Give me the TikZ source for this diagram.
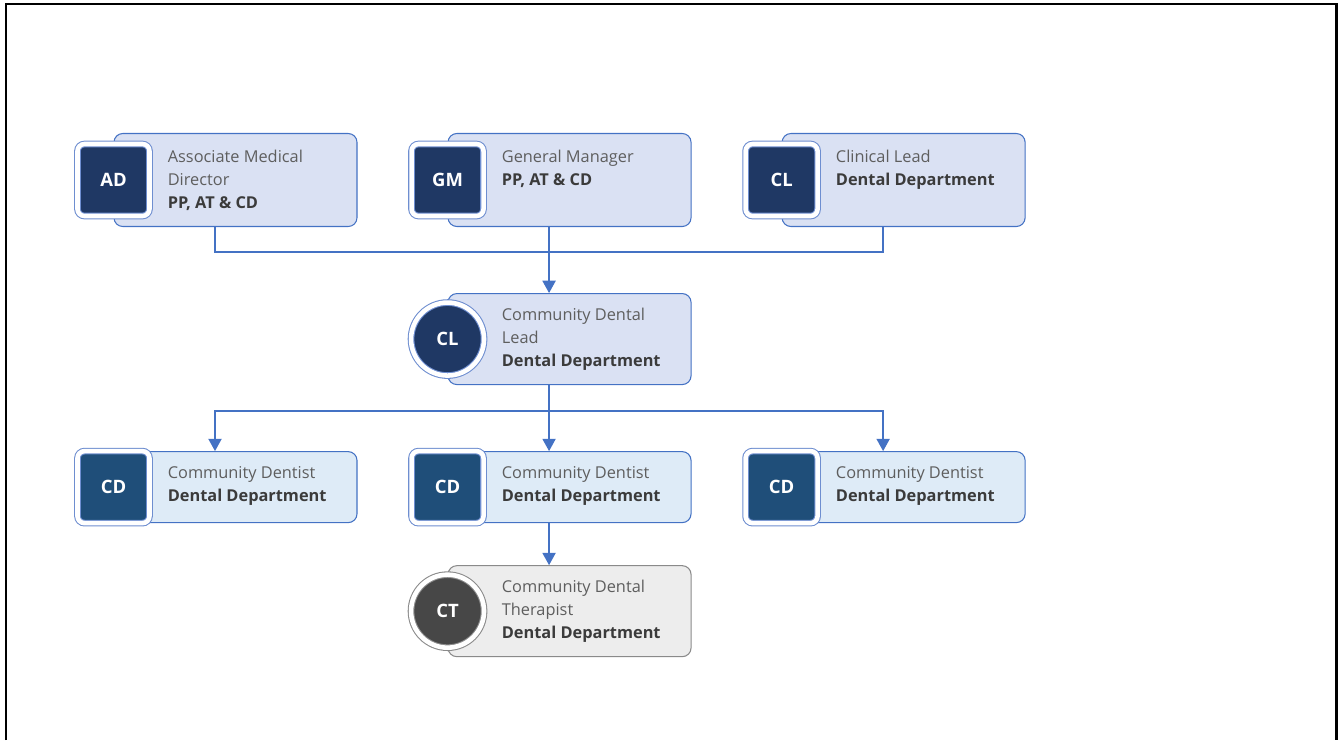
\documentclass[tikz,border=0pt]{standalone}
\usepackage{fontspec}
\setmainfont{Open Sans}
\usetikzlibrary{positioning,arrows.meta}

\definecolor{linkblue}{HTML}{4472C4}
\definecolor{ringblue}{HTML}{6E8ED0}
\definecolor{cardlav}{HTML}{DAE1F3}
\definecolor{cardsky}{HTML}{DEEBF7}
\definecolor{navy}{HTML}{1F3864}
\definecolor{steel}{HTML}{1F4E79}
\definecolor{paleGrey}{HTML}{EDEDED}
\definecolor{midGrey}{HTML}{8A8A8A}
\definecolor{darkGrey}{HTML}{474747}
\definecolor{textGrey}{HTML}{5E5E5E}
\definecolor{textDark}{HTML}{3B3B3B}

\begin{document}
\begin{tikzpicture}[node distance={1.8cm},
    card/.style={draw=linkblue, fill=cardlav, rounded corners=5pt, line width=0.6pt,
      minimum width=4.86cm, minimum height=1.86cm, inner sep=0pt},
    lowcard/.style={card, fill=cardsky, minimum height=1.42cm},
    greycard/.style={card, draw=midGrey, fill=paleGrey, minimum height=1.82cm},
    badge/.style={draw=ringblue, line width=0.6pt, double=white, double distance=2.6pt,
      fill=navy, text=white, font=\fontsize{10.5}{12}\selectfont\bfseries, inner sep=0pt},
    sqbadge/.style={badge, rectangle, rounded corners=4pt, minimum size=1.44cm},
    rdbadge/.style={badge, circle, minimum size=1.46cm},
    info/.style={anchor=north west, align=left, inner sep=0pt, text=textGrey,
      font=\fontsize{9.3}{13}\selectfont},
    conn/.style={draw=linkblue, line width=0.85pt},
    arr/.style={conn, -{Triangle[width=7.5pt,length=7pt]}}]

	\useasboundingbox (0,0) rectangle (26.8,-14.8);
	\draw[line width=1.7pt] (0.12,-14.8) -- (0.12,-0.08) -- (26.72,-0.08) -- (26.72,-14.8);

	% first row
	\node[card] (ad) at (4.71,-3.6) {};
	\node[card] (gm) [right=of ad] {};
	\node[card] (clin) [right=of gm] {};
	% second row
	\node[card, minimum height=1.82cm] (cdl) [below=1.32cm of gm] {};
	% third row
	\node[lowcard] (cd2) [below=1.32cm of cdl] {};
	\node[lowcard] (cd1) [left=of cd2] {};
	\node[lowcard] (cd3) [right=of cd2] {};
	% fourth row
	\node[greycard] (ct) [below=0.84cm of cd2] {};

	\node[sqbadge] (adb) at (ad.west) {AD};
	\node[sqbadge] (gmb) at (gm.west) {GM};
	\node[sqbadge] (clinb) at (clin.west) {CL};
	\node[rdbadge] (cdlb) at (cdl.west) {CL};
	\node[sqbadge, fill=steel] (cd1b) at (cd1.west) {CD};
	\node[sqbadge, fill=steel] (cd2b) at (cd2.west) {CD};
	\node[sqbadge, fill=steel] (cd3b) at (cd3.west) {CD};
	\node[rdbadge, draw=midGrey, fill=darkGrey] (ctb) at (ct.west) {CT};

	\node[info] (adt) at ([xshift=1.08cm,yshift=-0.34cm]ad.north west)
		{Associate Medical\\Director\\\textcolor{textDark}{\bfseries PP, AT \& CD}};
	\node[info] (gmt) at ([xshift=1.08cm,yshift=-0.34cm]gm.north west)
		{General Manager\\\textcolor{textDark}{\bfseries PP, AT \& CD}};
	\node[info] (clint) at ([xshift=1.08cm,yshift=-0.34cm]clin.north west)
		{Clinical Lead\\\textcolor{textDark}{\bfseries Dental Department}};
	\node[info] (cdlt) at ([xshift=1.08cm,yshift=-0.3cm]cdl.north west)
		{Community Dental\\Lead\\\textcolor{textDark}{\bfseries Dental Department}};
	\node[info] (cd1t) at ([xshift=1.08cm,yshift=-0.3cm]cd1.north west)
		{Community Dentist\\\textcolor{textDark}{\bfseries Dental Department}};
	\node[info] (cd2t) at ([xshift=1.08cm,yshift=-0.3cm]cd2.north west)
		{Community Dentist\\\textcolor{textDark}{\bfseries Dental Department}};
	\node[info] (cd3t) at ([xshift=1.08cm,yshift=-0.3cm]cd3.north west)
		{Community Dentist\\\textcolor{textDark}{\bfseries Dental Department}};
	\node[info] (ctt) at ([xshift=1.08cm,yshift=-0.3cm]ct.north west)
		{Community Dental\\Therapist\\\textcolor{textDark}{\bfseries Dental Department}};

	\draw[conn] ([xshift=-0.41cm]ad.south) -- ++(0,-0.5) -| ([xshift=-0.41cm]clin.south);
	\draw[arr] ([xshift=-0.41cm]gm.south) -- ([xshift=-0.41cm]cdl.north);
	\draw[conn] ([xshift=-0.41cm]cdl.south) -- ++(0,-0.52) coordinate (bus);
	\draw[arr] (bus) -| ([xshift=-0.41cm]cd1.north);
	\draw[arr] (bus) -| ([xshift=-0.41cm]cd3.north);
	\draw[arr] (bus) -- ([xshift=-0.41cm]cd2.north);
	\draw[arr] ([xshift=-0.41cm]cd2.south) -- ([xshift=-0.41cm]ct.north);
\end{tikzpicture}
\end{document}
